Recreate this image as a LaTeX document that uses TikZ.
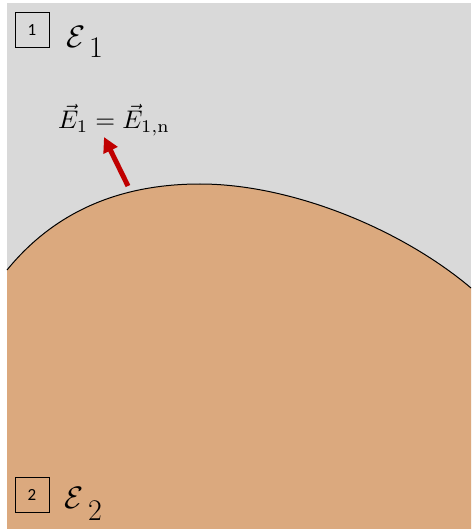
\documentclass[tikz,border=0pt]{standalone}
\usepackage{fontspec}
\newfontfamily\boxfont{Carlito}
\usetikzlibrary{arrows.meta}
\definecolor{medgrey}{RGB}{217,217,217}
\definecolor{medorange}{RGB}{219,169,126}
\definecolor{arrowred}{RGB}{192,0,0}
\newcommand{\bigE}{\scalebox{3.1}{$\mathcal{E}$}}
\tikzset{
  numbox/.style={draw=black, line width=0.9pt, minimum width=34pt, minimum height=35pt, inner sep=0pt, font=\boxfont\fontsize{17}{17}\selectfont},
  epslabel/.style={inner sep=0pt, anchor=base west},
  sublabel/.style={inner sep=0pt, anchor=base west, font=\fontsize{30}{32}\selectfont},
  fieldlabel/.style={inner sep=0pt, anchor=base},
  fieldarrow/.style={arrowred, line width=5pt, -{Triangle[width=15pt,length=15pt]}},
  interface/.style={black, line width=1pt}
}
\begin{document}
\begin{tikzpicture}[x=1pt,y=-1pt]
\useasboundingbox (0,0) rectangle (472,529);
\fill[white] (0,0) rectangle (472,529);
\fill[medgrey] (7,3) rectangle (471,529);
\fill[medorange] (7,270) .. controls (60,205) and (130,184) .. (200,184) .. controls (290,184) and (400,228) .. (471,288) -- (471,529) -- (7,529) -- cycle;
\draw[interface] (7,270) .. controls (60,205) and (130,184) .. (200,184) .. controls (290,184) and (400,228) .. (471,288);
% region 1
\node[numbox] (b1) at (32,30) {1};
\node[epslabel] (e1) at (66,48) {\bigE};
\node[sublabel] (s1) at (89,58) {1};
% region 2
\node[numbox] (b2) at (32,495) {2};
\node[epslabel] (e2) at (64,508) {\bigE};
\node[sublabel] (s2) at (88,520) {2};
% field
\node[fieldlabel] (fl) at (114,129) {\scalebox{2.55}{$\vec{E}_1 = \vec{E}_{1,\mathrm{n}}$}};
\coordinate (atail) at (128,186);
\coordinate (ahead) at (104,137);
\draw[fieldarrow] (atail) -- (ahead);
\end{tikzpicture}
\end{document}
